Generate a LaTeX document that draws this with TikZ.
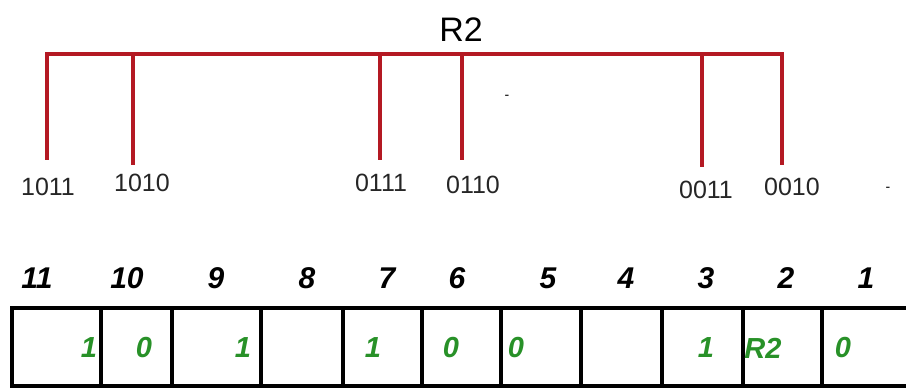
\documentclass[tikz,border=0pt]{standalone}
\usepackage{fontspec}
\setmainfont{Liberation Sans}
\definecolor{busred}{RGB}{180,25,35}
\definecolor{bitgreen}{RGB}{40,145,40}
\begin{document}
\begin{tikzpicture}[x=1pt,y=-1pt,
  bus/.style={busred,line width=3.2pt},
  addr/.style={inner sep=0pt,font=\fontsize{25}{25}\selectfont,text=black!85},
  posnum/.style={inner sep=0pt,font=\fontsize{30}{30}\selectfont\bfseries\itshape},
  bit/.style={inner sep=0pt,font=\fontsize{29}{29}\selectfont\bfseries\itshape,text=bitgreen},
  cell/.style={line width=3.2pt,black}]
\useasboundingbox (0,0) rectangle (906,390);
\clip (0,0) rectangle (906,390);
% title
\node[inner sep=0pt,font=\fontsize{34}{34}\selectfont] (title) at (461,30) {R2};
% bus
\coordinate (b1) at (47,54);
\coordinate (b2) at (782,54);
\draw[bus,line cap=rect] (b1) -- (b2);
\foreach \n/\x/\e/\lx/\ly/\t in {a/47/160/48/187/1011, b/133/165/142/183/1010, c/380/160/381/183/0111, d/462/160/473/185/0110, e/702/167/706/190/0011, f/782/165/792/187/0010}{
  \coordinate (t\n) at (\x,54);
  \coordinate (e\n) at (\x,\e);
  \draw[bus] (t\n) -- (e\n);
  \node[addr] (l\n) at (\lx,\ly) {\t};
}
% stray marks
\node[inner sep=0pt,font=\fontsize{14}{14}\selectfont] (m1) at (507,97) {-};
\node[inner sep=0pt,font=\fontsize{14}{14}\selectfont] (m2) at (888,189) {-};
% position numbers
\foreach \x/\t [count=\i] in {37/11,127/10,216/9,307/8,387/7,457/6,548/5,626/4,706/3,786/2,866/1}{
  \node[posnum] (p\i) at (\x,278) {\t};
}
% register cells
\draw[cell] (12,308) rectangle (915,386);
\foreach \x [count=\i] in {101,172,261,343,422,501,581,662,743,822}{
  \coordinate (dt\i) at (\x,308);
  \coordinate (db\i) at (\x,386);
  \draw[cell] (dt\i) -- (db\i);
}
% bits
\foreach \x/\t [count=\i] in {89/1,144/0,243/1,373/1,451/0,516/0,706/1,763/R2,843/0}{
  \node[bit] (v\i) at (\x,348) {\t};
}
\end{tikzpicture}
\end{document}
